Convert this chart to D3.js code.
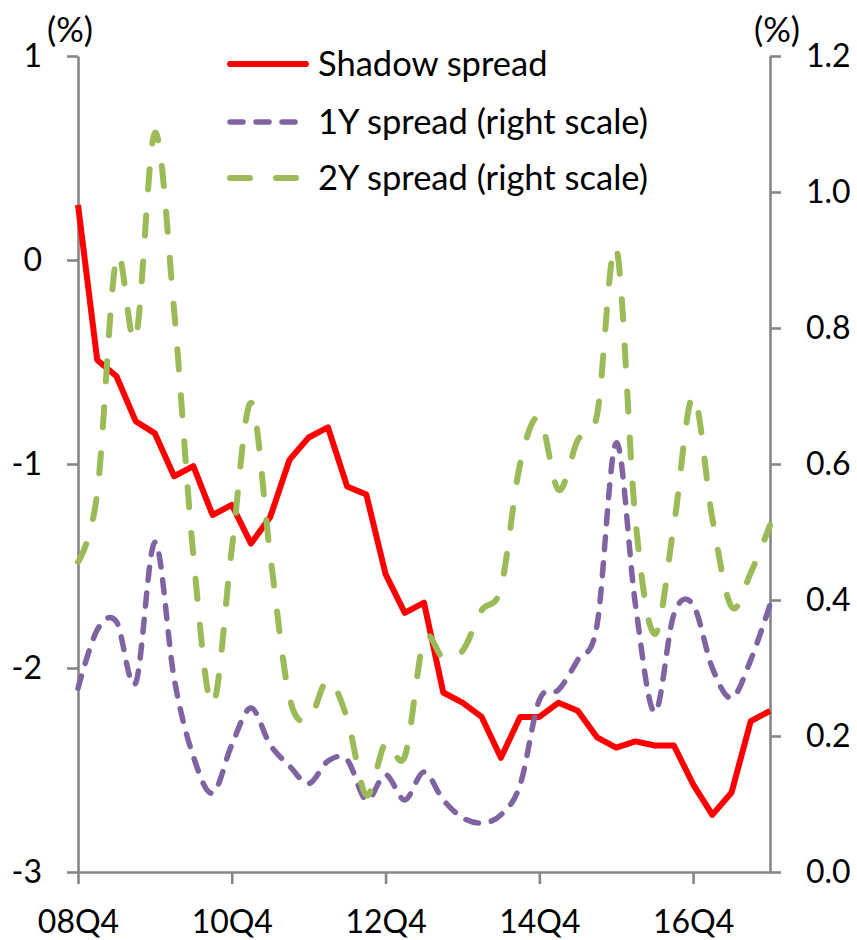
<!DOCTYPE html>
<html>
<head>
<meta charset="utf-8">
<script src="https://cdn.jsdelivr.net/npm/d3@7"></script>
<style>
  html, body { margin: 0; padding: 0; background: #ffffff; }
  svg { display: block; font-family: Lato, "Noto Sans", sans-serif; }
</style>
</head>
<body>
<svg id="chart" width="857" height="940"></svg>
<script>
// Quarterly observations, 2008Q4 to 2017Q4
const quarters = [
  "08Q4","09Q1","09Q2","09Q3","09Q4","10Q1","10Q2","10Q3","10Q4",
  "11Q1","11Q2","11Q3","11Q4","12Q1","12Q2","12Q3","12Q4",
  "13Q1","13Q2","13Q3","13Q4","14Q1","14Q2","14Q3","14Q4",
  "15Q1","15Q2","15Q3","15Q4","16Q1","16Q2","16Q3","16Q4",
  "17Q1","17Q2","17Q3","17Q4"
];
const xTickLabels = ["08Q4", "10Q4", "12Q4", "14Q4", "16Q4"];
const leftTicks = [-3, -2, -1, 0, 1];
const rightTicks = [0, 0.2, 0.4, 0.6, 0.8, 1.0, 1.2];

// Shadow spread (%, left scale)
const shadowSpread = [
  0.27, -0.49, -0.57, -0.79, -0.85, -1.06, -1.01, -1.25, -1.20,
  -1.39, -1.26, -0.98, -0.87, -0.82, -1.11, -1.15, -1.54,
  -1.73, -1.68, -2.12, -2.17, -2.24, -2.44, -2.24, -2.24,
  -2.17, -2.21, -2.34, -2.39, -2.36, -2.38, -2.38, -2.57,
  -2.72, -2.61, -2.26, -2.21
];
// 1Y spread (%, right scale)
const spread1Y = [
  0.27, 0.356, 0.368, 0.278, 0.485, 0.285, 0.17, 0.116, 0.187,
  0.241, 0.187, 0.156, 0.13, 0.163, 0.165, 0.106, 0.143,
  0.106, 0.147, 0.106, 0.08, 0.072, 0.084, 0.128, 0.253,
  0.268, 0.312, 0.363, 0.631, 0.393, 0.235, 0.379, 0.393,
  0.30, 0.256, 0.312, 0.393
];
// 2Y spread (%, right scale)
const spread2Y = [
  0.456, 0.557, 0.903, 0.785, 1.087, 0.826, 0.466, 0.246, 0.475,
  0.69, 0.466, 0.257, 0.224, 0.282, 0.226, 0.113, 0.19,
  0.17, 0.341, 0.315, 0.325, 0.385, 0.418, 0.60, 0.668,
  0.562, 0.635, 0.672, 0.918, 0.518, 0.35, 0.51, 0.70,
  0.52, 0.39, 0.44, 0.51
];

const legendItems = [
  { label: "Shadow spread", color: "#ff0000", width: 6, dash: null },
  { label: "1Y spread (right scale)", color: "#8064a2", width: 5.5, dash: "13,13" },
  { label: "2Y spread (right scale)", color: "#9bbb59", width: 6, dash: "20,26" }
];

const svg = d3.select("#chart");
const axisColor = "#868686";
const tickFont = 32;
const textFont = 34.5;

const x = d3.scalePoint().domain(quarters).range([78, 770]);
const yLeft = d3.scaleLinear().domain([-3, 1]).range([872, 56]);
const yRight = d3.scaleLinear().domain([0, 1.2]).range([872, 56]);

// plain hyphen for negative numbers
const fmtInt = d => String(d);
const fmtOne = d => d.toFixed(1);

function styleAxis(g) {
  g.selectAll("path.domain").attr("stroke", axisColor).attr("stroke-width", 2.6);
  g.selectAll(".tick line").attr("stroke", axisColor).attr("stroke-width", 2.6);
  g.selectAll(".tick text").attr("fill", "#000").style("font-size", tickFont + "px")
    .style("font-family", "Lato, 'Noto Sans', sans-serif");
}

// Axes
svg.append("g")
  .attr("transform", "translate(0,872)")
  .call(d3.axisBottom(x).tickValues(xTickLabels).tickSize(12).tickSizeOuter(0).tickPadding(26))
  .call(styleAxis);

svg.append("g")
  .attr("transform", "translate(78,0)")
  .call(d3.axisLeft(yLeft).tickValues(leftTicks).tickSize(11).tickSizeOuter(0).tickPadding(25)
    .tickFormat(fmtInt))
  .call(styleAxis);

svg.append("g")
  .attr("transform", "translate(770,0)")
  .call(d3.axisRight(yRight).tickValues(rightTicks).tickSize(11).tickSizeOuter(0).tickPadding(25)
    .tickFormat(fmtOne))
  .call(styleAxis);

// Unit labels
svg.append("text").attr("x", 47).attr("y", 42).text("(%)")
  .style("font-size", textFont + "px").attr("fill", "#000");
svg.append("text").attr("x", 754).attr("y", 42).text("(%)")
  .style("font-size", textFont + "px").attr("fill", "#000");

// Series
const lineShadow = d3.line()
  .x((d, i) => x(quarters[i]))
  .y(d => yLeft(d));
const lineRight = d3.line()
  .x((d, i) => x(quarters[i]))
  .y(d => yRight(d))
  .curve(d3.curveCardinal.tension(0));

svg.append("path").datum(shadowSpread)
  .attr("d", lineShadow)
  .attr("fill", "none").attr("stroke", legendItems[0].color)
  .attr("stroke-width", legendItems[0].width)
  .attr("stroke-linejoin", "round");

svg.append("path").datum(spread1Y)
  .attr("d", lineRight)
  .attr("fill", "none").attr("stroke", legendItems[1].color)
  .attr("stroke-width", legendItems[1].width)
  .attr("stroke-dasharray", legendItems[1].dash)
  .attr("stroke-linecap", "round");

svg.append("path").datum(spread2Y)
  .attr("d", lineRight)
  .attr("fill", "none").attr("stroke", legendItems[2].color)
  .attr("stroke-width", legendItems[2].width)
  .attr("stroke-dasharray", legendItems[2].dash)
  .attr("stroke-linecap", "round");

// Legend
const legendY = [64, 122, 178];
const legend = svg.append("g");
legendItems.forEach((item, i) => {
  const y = legendY[i];
  legend.append("line")
    .attr("x1", 230).attr("x2", item.dash ? 298 : 306)
    .attr("y1", y).attr("y2", y)
    .attr("stroke", item.color).attr("stroke-width", item.width)
    .attr("stroke-linecap", "round")
    .attr("stroke-dasharray", item.dash);
  legend.append("text")
    .attr("x", 318).attr("y", y + 12)
    .text(item.label)
    .style("font-size", textFont + "px").attr("fill", "#000");
});
</script>
</body>
</html>
